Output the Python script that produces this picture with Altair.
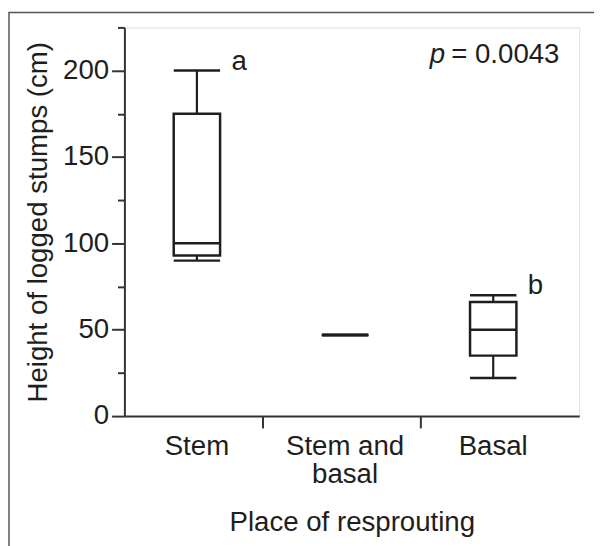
import altair as alt
import pandas as pd

# ---- data ----
categories = ["Stem", "Stem and basal", "Basal"]
cat_labels = ["Stem", "Stem and\nbasal", "Basal"]
positions = [1, 2, 3]
mins = [90, 47, 22]
q1s = [93, 47, 35]
medians = [100, 47, 50]
q3s = [175, 47, 66]
maxs = [200, 47, 70]
letters = ["a", "", "b"]
boundary_ticks = [1.443, 2.505]
y_ticks = [0, 25, 50, 75, 100, 125, 150, 175, 200, 225]
p_text = " = 0.0043"

df = pd.DataFrame({
    "cat": categories, "label": cat_labels, "pos": positions,
    "min": mins, "q1": q1s, "median": medians, "q3": q3s, "max": maxs,
    "letter": letters,
})

FONT = "Liberation Sans"
INK = "#1e1e1e"
FS = 28
BOXW = 47

xscale = alt.Scale(domain=[0.544, 3.547], nice=False, zero=False)
yscale = alt.Scale(domain=[0, 225], nice=False)

x_enc = alt.X("pos:Q", scale=xscale, axis=alt.Axis(
    values=boundary_ticks, labels=False, tickSize=12, tickWidth=2, tickColor="#333",
    domainColor="#333", domainWidth=2, grid=False,
    title="Place of resprouting", titleFont=FONT, titleFontSize=FS,
    titleFontWeight="normal", titleColor=INK, titlePadding=81))
y_axis = alt.Axis(
    values=y_ticks,
    labelExpr="datum.value % 50 === 0 ? datum.label : ''",
    tickSize={"condition": {"test": "datum.value % 50 === 0", "value": 13}, "value": 7},
    tickWidth=2, tickColor="#333", domainColor="#333", domainWidth=2, grid=False,
    labelFont=FONT, labelFontSize=FS, labelColor=INK, labelPadding=3,
    title="Height of logged stumps (cm)", titleFont=FONT, titleFontSize=FS,
    titleFontWeight="normal", titleColor=INK, titlePadding=10)

base = alt.Chart(df)

frame = alt.Chart(pd.DataFrame({"k": [0]})).mark_rect(
    filled=False, stroke="#555555", strokeWidth=1.5
).encode(x=alt.value(-117), x2=alt.value(800), y=alt.value(-15), y2=alt.value(800))

whisk_hi = base.mark_rule(color=INK, strokeWidth=2.2).encode(
    x=x_enc, y=alt.Y("q3:Q", scale=yscale, axis=y_axis), y2="max:Q")
whisk_lo = base.mark_rule(color=INK, strokeWidth=2.2).encode(
    x="pos:Q", y="min:Q", y2="q1:Q")
box = base.mark_bar(size=BOXW, fill="white", stroke=INK, strokeWidth=2.5).encode(
    x="pos:Q", y="q1:Q", y2="q3:Q")
med = base.mark_tick(orient="horizontal", size=BOXW, thickness=2.5, color=INK, opacity=1).encode(
    x="pos:Q", y="median:Q")
cap_hi = base.mark_tick(orient="horizontal", size=BOXW, thickness=2.5, color=INK, opacity=1).encode(
    x="pos:Q", y="max:Q")
cap_lo = base.mark_tick(orient="horizontal", size=BOXW, thickness=2.5, color=INK, opacity=1).encode(
    x="pos:Q", y="min:Q")

letter_txt = base.mark_text(font=FONT, fontSize=FS, color=INK, align="left",
                            baseline="alphabetic", dx=35, dy=-1).encode(
    x="pos:Q", y="max:Q", text="letter:N")

cat_txt = base.mark_text(font=FONT, fontSize=FS, color=INK, align="center",
                         baseline="alphabetic", lineBreak="\n", lineHeight=29).encode(
    x="pos:Q", y=alt.value(433), text="label:N")

ptext = pd.DataFrame({"t": [p_text], "p": ["p"]})
p_num = alt.Chart(ptext).mark_text(font=FONT, fontSize=FS, color=INK, align="right",
                                   baseline="alphabetic").encode(
    x=alt.value(441), y=alt.value(36), text="t:N")
p_it = alt.Chart(ptext).mark_text(font=FONT, fontSize=FS, color=INK, align="right",
                                  baseline="alphabetic", fontStyle="italic", dx=-116).encode(
    x=alt.value(441), y=alt.value(36), text="p:N")

chart = alt.layer(
    frame, whisk_hi, whisk_lo, box, med, cap_hi, cap_lo, letter_txt, cat_txt, p_num, p_it
).properties(
    width=461, height=394,
    autosize=alt.AutoSizeParams(type="none"),
    padding={"left": 118, "top": 16, "right": 15, "bottom": 128},
).configure_view(stroke="#333", strokeWidth=2).configure(background="white")

chart.save("out.html", embed_options={"renderer": "svg", "actions": False})
